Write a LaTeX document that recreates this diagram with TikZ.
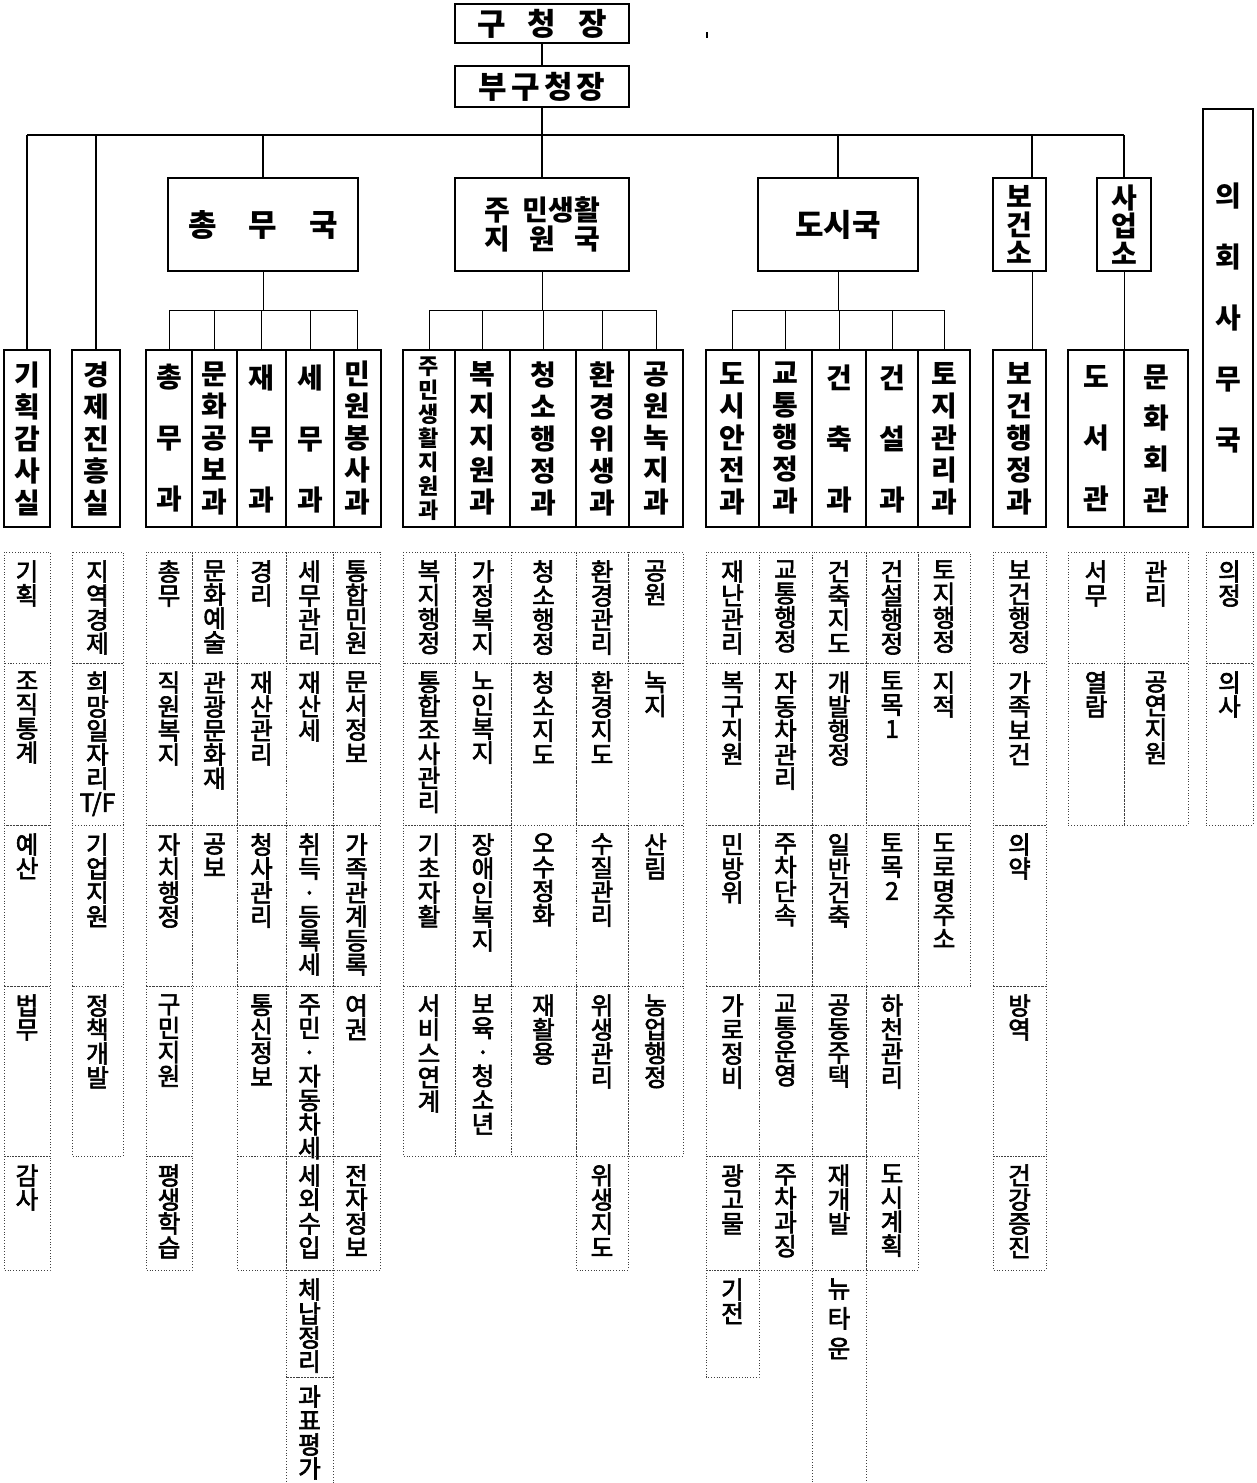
\documentclass[tikz,border=0pt]{standalone}
\usepackage{fontspec}
\newfontfamily\kr{Noto Sans CJK KR}
\newfontfamily\krt[FakeBold=2.5]{Noto Sans CJK KR}
\usetikzlibrary{positioning}

% characters set one below the other, #1 = distance between lines
\makeatletter
\def\vt@go#1{\@tfor\vt@c:=#1\do{\hbox to 1.3em{\hss\vt@c\hss}}}
\newcommand\vtxt[2][12pt]{\vbox{\baselineskip=#1\lineskiplimit=-\maxdimen\lineskip=0pt\expandafter\vt@go\expandafter{#2}}}
\makeatother

% tops of the team rows (px)
\def\rowy{{552,663,825,986,1156,1270,1377,1485}}

% one column of dotted team cells: name, left, right, texts
\newcommand\teamcol[4]{%
  \foreach \txt [count=\i] in {#4} {
    \pgfmathsetmacro\yt{\rowy[\i-1]}
    \pgfmathsetmacro\yb{\rowy[\i]}
    \draw[cell] (#2,\yt) rectangle (#3,\yb);
    \node[team] (#1-\i) at ({(#2+#3)/2},\yt+8) {\vtxt{\txt}};
  }}

\begin{document}
\begin{tikzpicture}[
  x=0.5pt, y=-0.5pt,
  box/.style={draw, line width=1.4pt, inner sep=0pt, fill=white},
  wh/.style 2 args={minimum width=#1*0.5pt, minimum height=#2*0.5pt},
  head/.style={font=\kr\bfseries\fontsize{14}{16}\selectfont},
  big/.style={font=\kr\bfseries\fontsize{15.5}{18}\selectfont},
  team/.style={anchor=north, inner sep=0pt, font=\krt\fontsize{12.3}{12}\selectfont},
  cell/.style={densely dotted, line width=0.4pt, black!75},
  link/.style={line width=1.4pt},
  twig/.style={line width=0.5pt}
]
\useasboundingbox (0,0) rectangle (1257,1483);

% mayor and deputy
\node[box, wh={174}{39}, big] (chief) at (542,23.5) {구\hspace{11pt}청\hspace{11pt}장};
\node[box, wh={174}{41}, big] (vice) at (542,86.5) {부\hspace{2pt}구\hspace{2pt}청\hspace{2pt}장};
\fill (705.5,32) rectangle (707.5,38);

% bureaus
\node[box, wh={190}{93}, big] (deptGA) at (263,224.5) {총\hspace{16pt}무\hspace{16pt}국};
\node[box, wh={174}{93}, head] (deptRL) at (542,224.5)
  {\vbox{\baselineskip=13pt\hbox to 58pt{주\hfil 민생활}\hbox to 58pt{지\hfil 원\hfil 국}}};
\node[box, wh={160}{93}, big] (deptUR) at (838,224.5) {도시국};
\node[box, wh={53}{93}, head] (deptHC) at (1019.5,224.5) {\vtxt[14pt]{보건소}};
\node[box, wh={54}{93}, head] (deptBO) at (1124,224.5) {\vtxt[14pt]{사업소}};
\node[box, wh={50}{418}, head] (council) at (1228,318) {\vtxt[30.5pt]{의회사무국}};

% offices and divisions
\node[box, wh={46}{177}, head] (secPlan) at (27,438.5) {\vtxt[16pt]{기획감사실}};
\node[box, wh={48}{177}, head] (secEcon) at (96,438.5) {\vtxt[16pt]{경제진흥실}};
\node[box, wh={46}{177}, head] (secGA) at (169,438.5) {\vtxt[30.5pt]{총무과}};
\node[box, wh={45}{177}, head] (secCult) at (214.5,438.5) {\vtxt[16pt]{문화공보과}};
\node[box, wh={49}{177}, head] (secFin) at (261.5,438.5) {\vtxt[30.5pt]{재무과}};
\node[box, wh={48}{177}, head] (secTax) at (310,438.5) {\vtxt[30.5pt]{세무과}};
\node[box, wh={47}{177}, head] (secCiv) at (357.5,438.5) {\vtxt[16pt]{민원봉사과}};
\node[box, wh={52}{177}, font=\kr\bfseries\fontsize{11}{12}\selectfont] (secRes) at (429,438.5) {\vtxt[12pt]{주민생활지원과}};
\node[box, wh={55}{177}, head] (secWel) at (482.5,438.5) {\vtxt[16pt]{복지지원과}};
\node[box, wh={66}{177}, head] (secClean) at (543,438.5) {\vtxt[16pt]{청소행정과}};
\node[box, wh={53}{177}, head] (secEnv) at (602.5,438.5) {\vtxt[16pt]{환경위생과}};
\node[box, wh={54}{177}, head] (secPark) at (656,438.5) {\vtxt[16pt]{공원녹지과}};
\node[box, wh={53}{177}, head] (secSafe) at (732.5,438.5) {\vtxt[16pt]{도시안전과}};
\node[box, wh={53}{177}, head] (secTraf) at (785.5,438.5) {\vtxt[16pt]{교통행정과}};
\node[box, wh={54}{177}, head] (secArch) at (839,438.5) {\vtxt[30.5pt]{건축과}};
\node[box, wh={52}{177}, head] (secCons) at (892,438.5) {\vtxt[30.5pt]{건설과}};
\node[box, wh={52}{177}, head] (secLand) at (944,438.5) {\vtxt[16pt]{토지관리과}};
\node[box, wh={53}{177}, head] (secHealth) at (1019.5,438.5) {\vtxt[16pt]{보건행정과}};
\node[box, wh={56}{177}, head] (secLib) at (1096,438.5) {\vtxt[30.5pt]{도서관}};
\node[box, wh={64}{177}, head] (secHall) at (1156,438.5) {\vtxt[20.5pt]{문화회관}};

% main lines
\coordinate (bus) at (542,135);
\coordinate (jrow) at (0,310);
\coordinate (hcline) at (1032,0);
\draw[link] (chief) -- (vice);
\draw[link] (vice.south) -- (bus);
\draw[link] (secPlan.north |- bus) -- (deptBO.north |- bus);
\draw[link] (secPlan.north |- bus) -- (secPlan.north);
\draw[link] (secEcon.north |- bus) -- (secEcon.north);
\draw[link] (deptGA.north |- bus) -- (deptGA.north);
\draw[link] (bus) -- (deptRL.north);
\draw[link] (deptUR.north |- bus) -- (deptUR.north);
\draw[link] (hcline |- bus) -- (hcline |- deptHC.north);
\draw[link] (deptBO.north |- bus) -- (deptBO.north);

% bureau to division lines
\draw[twig] (deptGA.south) -- (deptGA.south |- jrow);
\draw[twig] (secGA.north |- jrow) -- (secCiv.north |- jrow);
\foreach \s in {secGA,secCult,secFin,secTax,secCiv} \draw[twig] (\s.north |- jrow) -- (\s.north);
\draw[twig] (deptRL.south) -- (deptRL.south |- jrow);
\draw[twig] (secRes.north |- jrow) -- (secPark.north |- jrow);
\foreach \s in {secRes,secWel,secClean,secEnv,secPark} \draw[twig] (\s.north |- jrow) -- (\s.north);
\draw[twig] (deptUR.south) -- (deptUR.south |- jrow);
\draw[twig] (secSafe.north |- jrow) -- (secLand.north |- jrow);
\foreach \s in {secSafe,secTraf,secArch,secCons,secLand} \draw[twig] (\s.north |- jrow) -- (\s.north);
\draw[twig] (hcline |- deptHC.south) -- (hcline |- secHealth.north);
\draw[twig] (deptBO.south) -- (deptBO.south |- secLib.north);

% teams
\teamcol{plan}{4}{50}{기획,조직통계,예산,법무,감사}
\teamcol{econ}{72}{123}{지역경제,희망일자리{T/F},기업지원,정책개발}
\teamcol{ga}{146}{192}{총무,직원복지,자치행정,구민지원,평생학습}
\teamcol{cult}{192}{237}{문화예술,관광문화재,공보}
\teamcol{fin}{237}{286}{경리,재산관리,청사관리,통신정보,{}}
\teamcol{tax}{286}{333}{세무관리,재산세,취득·등록세,주민·자동차세,세외수입,체납정리,과표평가}
\teamcol{civ}{333}{380}{통합민원,문서정보,가족관계등록,여권,전자정보}
\teamcol{res}{403}{455}{복지행정,통합조사관리,기초자활,서비스연계}
\teamcol{wel}{455}{511}{가정복지,노인복지,장애인복지,보육·청소년}
\teamcol{clean}{511}{576}{청소행정,청소지도,오수정화,재활용}
\teamcol{env}{576}{628}{환경관리,환경지도,수질관리,위생관리,위생지도}
\teamcol{park}{628}{683}{공원,녹지,산림,농업행정}
\teamcol{safe}{706}{759}{재난관리,복구지원,민방위,가로정비,광고물,기전}
\teamcol{traf}{759}{812}{교통행정,자동차관리,주차단속,교통운영,주차과징}
\teamcol{arch}{812}{866}{건축지도,개발행정,일반건축,공동주택,재개발}
\draw[cell] (812,1485) |- (866,1270) -- (866,1485);
\node[team] (arch-6) at (839,1278) {\vtxt[15pt]{뉴타운}};
\teamcol{cons}{866}{918}{건설행정,토목1,토목2,하천관리,도시계획}
\teamcol{land}{918}{970}{토지행정,지적,도로명주소}
\teamcol{hlth}{993}{1046}{보건행정,가족보건,의약,방역,건강증진}
\teamcol{lib}{1068}{1124}{서무,열람}
\teamcol{hall}{1124}{1188}{관리,공연지원}
\teamcol{cncl}{1206}{1253}{의정,의사}
\end{tikzpicture}
\end{document}
